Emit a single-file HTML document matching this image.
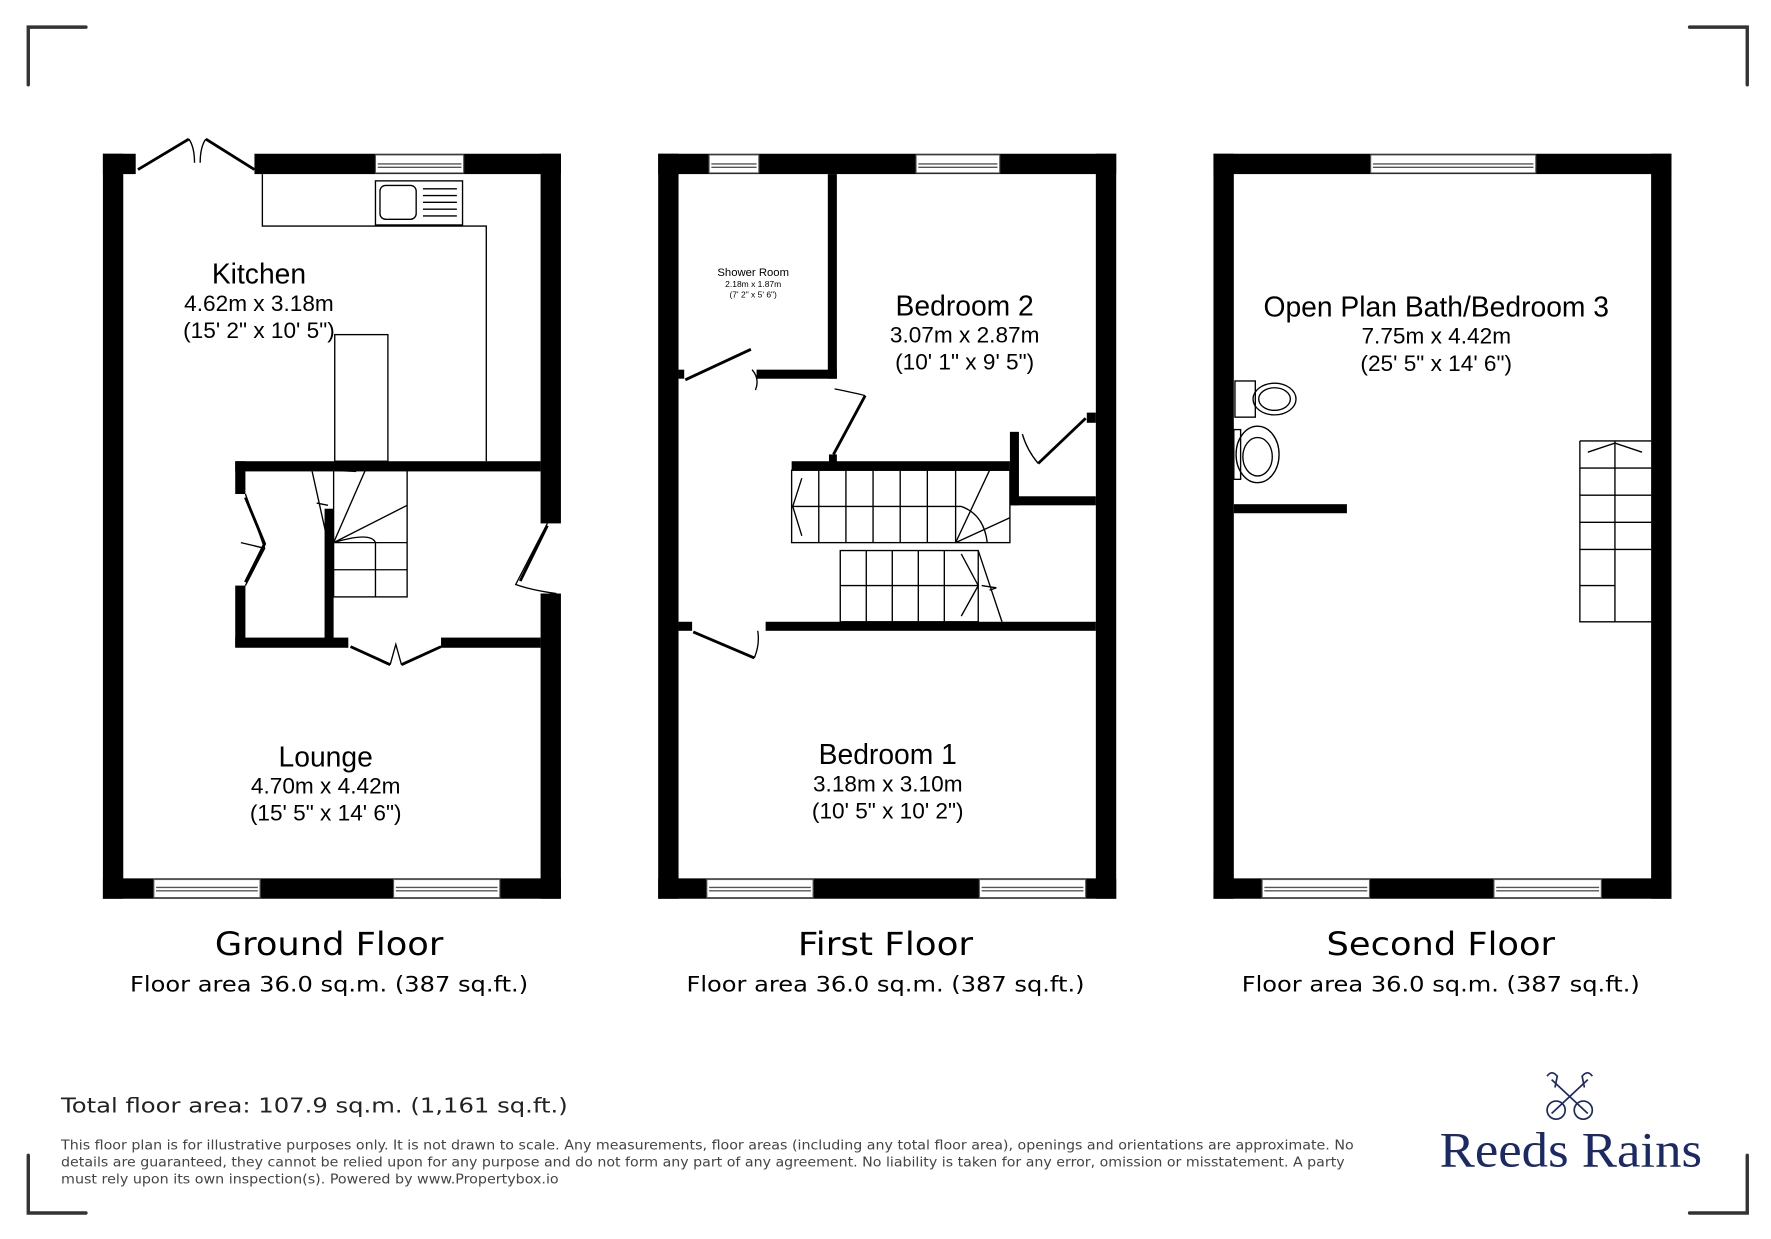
<!DOCTYPE html>
<html><head><meta charset="utf-8"><style>html,body{margin:0;padding:0;background:#fff}svg{display:block}</style></head><body>
<svg width="1771" height="1239" viewBox="0 0 1566 1096" preserveAspectRatio="none" xmlns="http://www.w3.org/2000/svg" font-family="Liberation Sans, sans-serif">
<rect width="1566" height="1096" fill="#fff"/>
<g stroke="#333" stroke-width="3" fill="none" stroke-linecap="round">
<path d="M25 75V24H76"/><path d="M1494 24H1545V75"/><path d="M25 1022V1073H76"/><path d="M1494 1073H1545V1022"/>
</g>

<!-- ============ GROUND FLOOR ============ -->
<g fill="#000">
<rect x="91" y="136" width="18" height="659"/>
<rect x="478" y="136" width="18" height="327"/>
<rect x="478" y="525" width="18" height="270"/>
<rect x="91" y="136" width="29" height="18"/>
<rect x="225" y="136" width="271" height="18"/>
<rect x="91" y="777" width="405" height="18"/>
<rect x="208" y="408" width="270" height="9"/>
<rect x="208" y="408" width="9" height="29"/>
<rect x="208" y="518" width="9" height="54"/>
<rect x="208" y="564" width="100" height="9"/>
<rect x="390" y="564" width="88" height="9"/>
<rect x="287" y="450" width="8" height="122"/>
</g>
<g fill="#fff" stroke="#555" stroke-width="1">
<rect x="332" y="137" width="78" height="16"/><rect x="136" y="778" width="94" height="16"/><rect x="348" y="778" width="94" height="16"/>
</g>
<g stroke="#555" stroke-width="1.2" fill="none">
<path d="M334 145H408M334 148H408"/><path d="M138 785H228M138 788H228"/><path d="M350 785H440M350 788H440"/>
</g>
<g stroke="#000" stroke-width="1.2" fill="none">
<path d="M232 154V200H430V408"/>
<rect x="332" y="160" width="77" height="39"/>
<rect x="336" y="164" width="32" height="30" rx="5"/>
<path d="M374 167H404M374 173H404M374 179H404M374 185H404M374 191H404"/>
<rect x="296" y="296" width="47" height="112"/>
<rect x="295" y="416" width="65" height="112"/>
<path d="M295 480H360M295 504H360M332 480V528M295 416L315 417M295 480L323 416M295 480L360 447M295 480Q328 470 332 480"/>
<path d="M276 417L290 480M280 445L290 447"/>
<path d="M217 437L234 485L217 518M213 480L234 485"/>
<path d="M310 572L345 588M390 572L355 588M345 588L350 570L355 588"/>
<path d="M484 463L456 517Q470 522 492 525"/>
</g>
<g stroke="#000" stroke-width="2.5" fill="none">
<path d="M122 150L167 123M225 150L182 123"/>
<path d="M217 440L234 481L217 515"/>
<path d="M310 572L345 588M390 572L355 588"/>
<path d="M484 465L460 514"/>
</g>
<path d="M167 123Q172 130 172 144M182 123Q177 130 177 144" stroke="#000" stroke-width="1.2" fill="none"/>
<g text-anchor="middle" fill="#000">
<text x="229" y="251" font-size="25">Kitchen</text>
<text x="229" y="275" font-size="20">4.62m x 3.18m</text>
<text x="229" y="299" font-size="20">(15' 2" x 10' 5")</text>
<text x="288" y="678" font-size="25">Lounge</text>
<text x="288" y="702" font-size="20">4.70m x 4.42m</text>
<text x="288" y="726" font-size="20">(15' 5" x 14' 6")</text>
</g>

<!-- ============ FIRST FLOOR ============ -->
<g fill="#000">
<rect x="582" y="136" width="18" height="659"/>
<rect x="969" y="136" width="18" height="659"/>
<rect x="582" y="136" width="405" height="18"/>
<rect x="582" y="777" width="405" height="18"/>
<rect x="732" y="154" width="8" height="181"/>
<rect x="669" y="327" width="71" height="8"/>
<rect x="600" y="327" width="5" height="8"/>
<rect x="700" y="408" width="193" height="8"/>
<rect x="733" y="402" width="7" height="8"/>
<rect x="893" y="382" width="8" height="65"/>
<rect x="893" y="439" width="76" height="8"/>
<rect x="961" y="365" width="8" height="9"/>
<rect x="677" y="550" width="292" height="8"/>
<rect x="600" y="550" width="12" height="8"/>
</g>
<g fill="#fff" stroke="#555" stroke-width="1">
<rect x="627" y="137" width="44" height="16"/><rect x="810" y="137" width="74" height="16"/>
<rect x="625" y="778" width="94" height="16"/><rect x="866" y="778" width="94" height="16"/>
</g>
<g stroke="#555" stroke-width="1.2" fill="none">
<path d="M629 145H669M629 148H669M812 145H882M812 148H882M627 785H717M627 788H717M868 785H958M868 788H958"/>
</g>
<g stroke="#000" stroke-width="1.2" fill="none">
<rect x="700" y="416" width="193" height="64"/>
<path d="M724 416V480M748 416V480M772 416V480M796 416V480M820 416V480M700 448H850M845 416V480M709 423L701 448L709 474"/>
<path d="M845 480L875 416M845 480L893 458M850 448Q870 455 873 480"/>
<rect x="743" y="487" width="122" height="63"/>
<path d="M766 487V550M789 487V550M812 487V550M835 487V550M743 518H865M850 490L865 518L850 545"/>
<path d="M865 487L886 550M868 518L881 520L875 522"/>
<path d="M665 327Q672 335 668 345M738 344Q758 348 765 350M904 384Q908 398 918 410M670 558Q672 570 667 582"/>
</g>
<g stroke="#000" stroke-width="2.5" fill="none">
<path d="M606 336L664 309"/><path d="M765 350L737 402"/><path d="M918 410L960 370"/><path d="M613 559L667 582"/>
</g>
<g text-anchor="middle" fill="#000">
<text x="666" y="244" font-size="10">Shower Room</text>
<text x="666" y="254" font-size="7.5">2.18m x 1.87m</text>
<text x="666" y="263" font-size="7.5">(7' 2" x 5' 6")</text>
<text x="853" y="279" font-size="25">Bedroom 2</text>
<text x="853" y="303" font-size="20">3.07m x 2.87m</text>
<text x="853" y="327" font-size="20">(10' 1" x 9' 5")</text>
<text x="785" y="676" font-size="25">Bedroom 1</text>
<text x="785" y="700" font-size="20">3.18m x 3.10m</text>
<text x="785" y="724" font-size="20">(10' 5" x 10' 2")</text>
</g>

<!-- ============ SECOND FLOOR ============ -->
<g fill="#000">
<rect x="1073" y="136" width="18" height="659"/>
<rect x="1460" y="136" width="18" height="659"/>
<rect x="1073" y="136" width="405" height="18"/>
<rect x="1073" y="777" width="405" height="18"/>
<rect x="1091" y="446" width="100" height="8"/>
</g>
<g fill="#fff" stroke="#555" stroke-width="1">
<rect x="1212" y="137" width="146" height="16"/>
<rect x="1116" y="778" width="95" height="16"/><rect x="1321" y="778" width="95" height="16"/>
</g>
<g stroke="#555" stroke-width="1.2" fill="none">
<path d="M1214 145H1356M1214 148H1356M1118 785H1209M1118 788H1209M1323 785H1414M1323 788H1414"/>
</g>
<g stroke="#000" stroke-width="1.2" fill="none">
<rect x="1092" y="337" width="18" height="32"/>
<ellipse cx="1127" cy="353" rx="19" ry="14"/><ellipse cx="1127" cy="353" rx="14" ry="10"/>
<rect x="1091" y="380" width="6" height="44"/>
<ellipse cx="1112" cy="402" rx="19" ry="25"/><ellipse cx="1112" cy="404" rx="13" ry="17"/>
<path d="M1397 390H1460M1397 390V550H1460M1397 414H1460M1397 438H1460M1397 462H1460M1397 486H1460M1397 518H1428M1428 390V518M1428 462V550M1404 400L1428 392L1452 400M1428 486V518"/>
</g>
<g text-anchor="middle" fill="#000">
<text x="1270" y="280" font-size="25">Open Plan Bath/Bedroom 3</text>
<text x="1270" y="304" font-size="20">7.75m x 4.42m</text>
<text x="1270" y="328" font-size="20">(25' 5" x 14' 6")</text>
</g>

<!-- ============ TITLES ============ -->
<g text-anchor="middle" fill="#000" font-family="DejaVu Sans, sans-serif">
<text x="291" y="845" font-size="28" textLength="202" lengthAdjust="spacingAndGlyphs">Ground Floor</text>
<text x="291" y="877" font-size="19" textLength="352" lengthAdjust="spacingAndGlyphs">Floor area 36.0 sq.m. (387 sq.ft.)</text>
<text x="783" y="845" font-size="28" textLength="155" lengthAdjust="spacingAndGlyphs">First Floor</text>
<text x="783" y="877" font-size="19" textLength="352" lengthAdjust="spacingAndGlyphs">Floor area 36.0 sq.m. (387 sq.ft.)</text>
<text x="1274" y="845" font-size="28" textLength="202" lengthAdjust="spacingAndGlyphs">Second Floor</text>
<text x="1274" y="877" font-size="19" textLength="352" lengthAdjust="spacingAndGlyphs">Floor area 36.0 sq.m. (387 sq.ft.)</text>
</g>
<g fill="#222" font-family="DejaVu Sans, sans-serif">
<text x="54" y="984" font-size="18" textLength="448" lengthAdjust="spacingAndGlyphs">Total floor area: 107.9 sq.m. (1,161 sq.ft.)</text>
<text x="54" y="1017" font-size="12" fill="#444" textLength="1143" lengthAdjust="spacingAndGlyphs">This floor plan is for illustrative purposes only. It is not drawn to scale. Any measurements, floor areas (including any total floor area), openings and orientations are approximate. No</text>
<text x="54" y="1032" font-size="12" fill="#444" textLength="1135" lengthAdjust="spacingAndGlyphs">details are guaranteed, they cannot be relied upon for any purpose and do not form any part of any agreement. No liability is taken for any error, omission or misstatement. A party</text>
<text x="54" y="1047" font-size="12" fill="#444" textLength="440" lengthAdjust="spacingAndGlyphs">must rely upon its own inspection(s). Powered by www.Propertybox.io</text>
</g>
<!-- logo -->
<g stroke="#1b2a66" stroke-width="1.5" fill="none">
<path d="M1372 955L1404 985M1404 955L1372 985"/>
<circle cx="1376" cy="982" r="8"/><circle cx="1400" cy="982" r="8"/>
<path d="M1368 952Q1372 946 1377 952L1375 962M1408 952Q1404 946 1399 952L1401 962"/>
</g>
<text x="1389" y="1032" text-anchor="middle" font-family="Liberation Serif, serif" font-size="44" fill="#1b2a66" textLength="232" lengthAdjust="spacingAndGlyphs">Reeds Rains</text>
</svg>
</body></html>
